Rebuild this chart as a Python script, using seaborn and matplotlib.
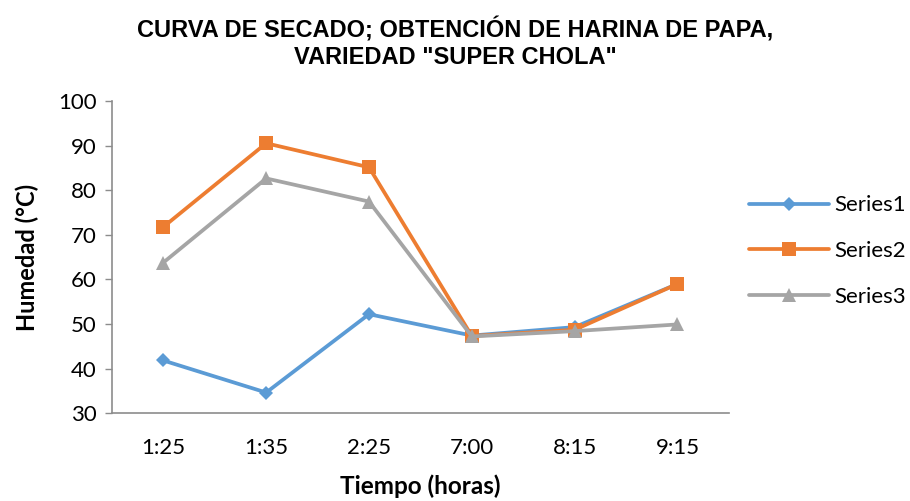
import matplotlib
matplotlib.use("Agg")
import matplotlib.pyplot as plt
import seaborn as sns
import pandas as pd

tiempos = ["1:25", "1:35", "2:25", "7:00", "8:15", "9:15"]
series1 = [41.8, 34.6, 52.2, 47.4, 49.3, 59.0]
series2 = [71.8, 90.6, 85.2, 47.3, 48.7, 59.0]
series3 = [63.8, 82.7, 77.5, 47.2, 48.4, 49.9]
nombres = ["Series1", "Series2", "Series3"]

sns.set_theme(style="white")
plt.rcParams["font.family"] = ["Liberation Sans", "DejaVu Sans"]
plt.rcParams["text.color"] = "black"
plt.rcParams["axes.labelcolor"] = "black"

df = pd.DataFrame({
    "Tiempo": tiempos * 3,
    "Humedad": series1 + series2 + series3,
    "Serie": [n for n in nombres for _ in tiempos],
})
df["pos"] = [i for _ in nombres for i in range(len(tiempos))]

colores = {"Series1": "#5B9BD5", "Series2": "#ED7D31", "Series3": "#A5A5A5"}
marcadores = {"Series1": "D", "Series2": "s", "Series3": "^"}
tamanos = {"Series1": 7, "Series2": 10, "Series3": 10}

fig = plt.figure(figsize=(9.1, 5.01), dpi=100)
ax = fig.add_axes([0.123, 0.1756, 0.678, 0.622])

for n in nombres:
    sub = df[df["Serie"] == n]
    sns.lineplot(data=sub, x="pos", y="Humedad", ax=ax, color=colores[n],
                 marker=marcadores[n], markersize=tamanos[n], linewidth=2.7,
                 markeredgewidth=0, label=n, sort=False)

ax.set_xlim(-0.5, len(tiempos) - 0.5)
ax.set_ylim(30, 100)
ax.set_xticks(range(len(tiempos)))
ax.set_xticklabels(tiempos)
ax.set_yticks(range(30, 101, 10))
ax.tick_params(axis="both", labelsize=16, labelcolor="black")
ax.tick_params(axis="y", length=5, width=1, color="#8C8C8C", direction="out",
               left=True, pad=6)
ax.tick_params(axis="x", length=0, pad=18)
sans = ["Lato", "DejaVu Sans"]
for lbl in ax.get_xticklabels() + ax.get_yticklabels():
    lbl.set_fontfamily(sans)

for s in ["top", "right"]:
    ax.spines[s].set_visible(False)
for s in ["left", "bottom"]:
    ax.spines[s].set_color("#8C8C8C")
    ax.spines[s].set_linewidth(1.2)

ax.set_xlabel("Tiempo (horas)", fontsize=17.5, fontweight="bold",
              fontfamily=sans, labelpad=12)
ax.set_ylabel("Humedad (°C)", fontsize=17, fontweight="bold",
              fontfamily=sans, labelpad=14)

fig.suptitle('CURVA DE SECADO; OBTENCIÓN DE HARINA DE PAPA,\nVARIEDAD "SUPER CHOLA"',
             x=0.5, y=0.965, fontsize=17, fontweight="bold", linespacing=1.2)

leg = ax.legend(loc="center left", bbox_to_anchor=(1.0, 0.52), frameon=False,
                prop={"family": sans, "size": 16},
                handlelength=3.6, labelspacing=1.15, handletextpad=0.25)

fig.savefig("out.png", dpi=100)
